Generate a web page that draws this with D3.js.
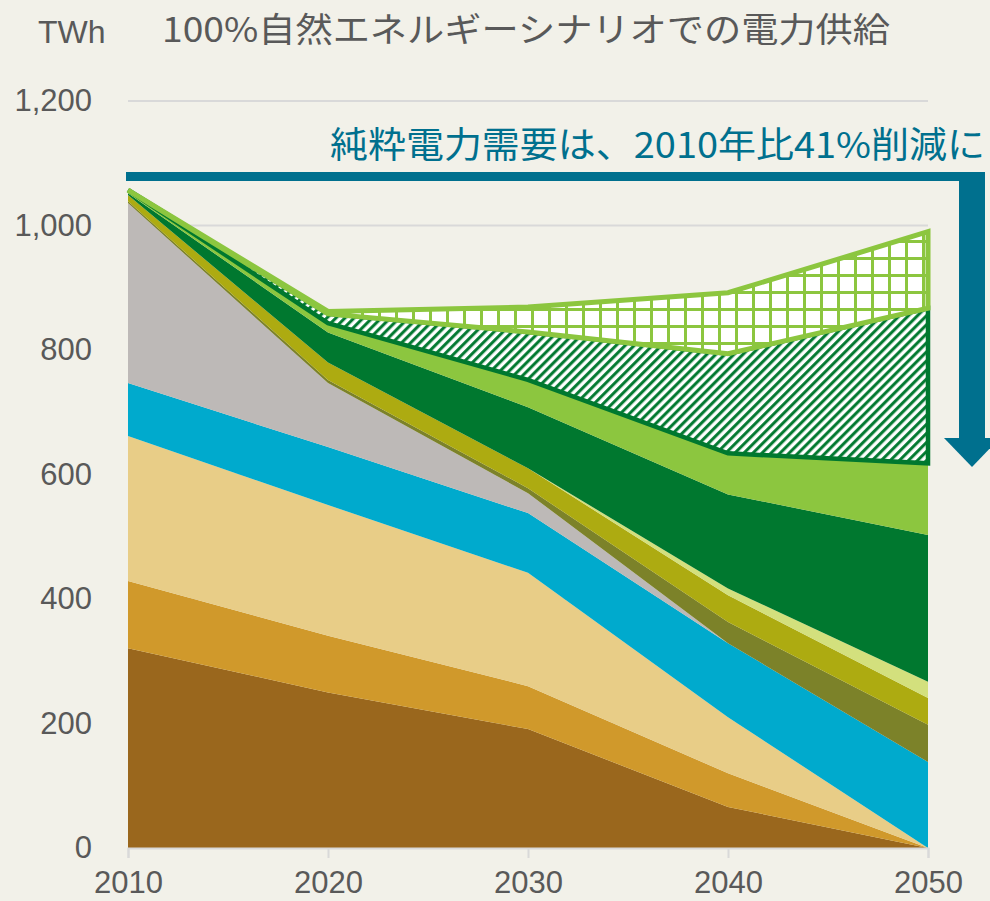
<!DOCTYPE html>
<html>
<head>
<meta charset="utf-8">
<script src="https://cdn.jsdelivr.net/npm/d3@7"></script>
<style>
  body { margin: 0; background: #f2f1e9; }
  svg { display: block; }
</style>
</head>
<body>
<div id="chart"></div>
<script>
// data (TWh)
var years = [2010, 2020, 2030, 2040, 2050];
var coal       = [321, 250, 191, 66, 0];
var oil        = [108, 91, 69, 54, 0];
var gas        = [233, 210, 182, 90, 0];
var hydro      = [85, 93, 96, 119, 138];
var nuclear    = [289, 103, 32, 0, 0];
var geothermal = [3, 5, 8, 34, 60];
var biomass    = [10, 28, 32, 43, 43];
var smallHydro = [0, 0, 0, 11, 26];
var solar      = [3, 48, 98, 151, 236];
var wind       = [5, 15, 44, 66, 115];
var hatchPart  = [0, 15, 77, 160, 249];
var gridPart   = [0, 4, 40, 98, 123];
var yTicks = [0, 200, 400, 600, 800, 1000, 1200];

var keys = ["coal", "oil", "gas", "hydro", "nuclear", "geothermal", "biomass", "smallHydro", "solar", "wind"];
var colors = ["#9a671d", "#d0992b", "#e8cd87", "#00aacd", "#bdb9b7", "#7c8229", "#adab11", "#d3e07d", "#00782f", "#8cc63f"];

var series = { coal: coal, oil: oil, gas: gas, hydro: hydro, nuclear: nuclear,
  geothermal: geothermal, biomass: biomass, smallHydro: smallHydro, solar: solar, wind: wind };

var table = years.map(function(y, i) {
  var row = { year: y };
  keys.forEach(function(k) { row[k] = series[k][i]; });
  return row;
});

var svgWidth = 990;
var svgHeight = 901;

var svg = d3.select("#chart")
  .append("svg")
  .attr("width", svgWidth)
  .attr("height", svgHeight);

svg.append("rect")
  .attr("width", svgWidth)
  .attr("height", svgHeight)
  .attr("fill", "#f2f1e9");

var x = d3.scaleLinear().domain([2010, 2050]).range([128, 928]);
var y = d3.scaleLinear().domain([0, 1200]).range([848, 101]);

// patterns
var defs = svg.append("defs");
var diag = defs.append("pattern")
  .attr("id", "diag")
  .attr("patternUnits", "userSpaceOnUse")
  .attr("width", 6.4)
  .attr("height", 6.4)
  .attr("patternTransform", "rotate(45)");
diag.append("rect").attr("width", 6.4).attr("height", 6.4).attr("fill", "#ffffff");
diag.append("line")
  .attr("x1", 1.6).attr("y1", 0).attr("x2", 1.6).attr("y2", 6.4)
  .attr("stroke", "#00782f").attr("stroke-width", 3);

var grid = defs.append("pattern")
  .attr("id", "grid")
  .attr("patternUnits", "userSpaceOnUse")
  .attr("width", 17)
  .attr("height", 17)
  .attr("x", 4)
  .attr("y", 2);
grid.append("rect").attr("width", 17).attr("height", 17).attr("fill", "#ffffff");
grid.append("path")
  .attr("d", "M1.5,0V17M0,1.5H17")
  .attr("stroke", "#8cc63f").attr("stroke-width", 3);

// gridlines
svg.append("g")
  .selectAll("line")
  .data(yTicks.slice(1))
  .enter()
  .append("line")
  .attr("x1", 128).attr("x2", 928)
  .attr("y1", d => y(d)).attr("y2", d => y(d))
  .attr("stroke", "#d9d9d9")
  .attr("stroke-width", 2);

// stacked areas
var stacked = d3.stack().keys(keys)(table);

var area = d3.area()
  .x(d => x(d.data.year))
  .y0(d => y(d[0]))
  .y1(d => y(d[1]));

svg.append("g")
  .selectAll("path")
  .data(stacked)
  .enter()
  .append("path")
  .attr("d", area)
  .attr("fill", (d, i) => colors[i]);

// overlay regions on top of the stack
var total = table.map(function(r) {
  return d3.sum(keys, k => r[k]);
});

var hatchArea = d3.area()
  .x((d, i) => x(years[i]))
  .y0((d, i) => y(total[i]))
  .y1((d, i) => y(total[i] + hatchPart[i]));

var gridArea = d3.area()
  .x((d, i) => x(years[i]))
  .y0((d, i) => y(total[i] + hatchPart[i]))
  .y1((d, i) => y(total[i] + hatchPart[i] + gridPart[i]));

svg.append("path")
  .attr("d", hatchArea(years))
  .attr("fill", "url(#diag)")
  .attr("stroke", "#00782f")
  .attr("stroke-width", 4.5)
  .attr("stroke-linejoin", "miter");

svg.append("path")
  .attr("d", gridArea(years))
  .attr("fill", "url(#grid)")
  .attr("stroke", "#8cc63f")
  .attr("stroke-width", 5)
  .attr("stroke-linejoin", "miter");

// x axis
var xAxis = svg.append("g")
  .attr("transform", "translate(0," + 848 + ")")
  .call(d3.axisBottom(x).tickValues(years).tickFormat(d3.format("d")).tickSize(10).tickPadding(13));
xAxis.select(".domain").attr("stroke", "#d9d9d9").attr("stroke-width", 2);
xAxis.selectAll(".tick line").attr("stroke", "#d9d9d9").attr("stroke-width", 2);
xAxis.selectAll("text")
  .attr("fill", "#595959")
  .style("font-family", "'Liberation Sans', Arial, sans-serif")
  .style("font-size", "31px");

// y axis labels
var yAxis = svg.append("g")
  .attr("transform", "translate(128,0)")
  .call(d3.axisLeft(y).tickValues(yTicks).tickFormat(d3.format(",")).tickSize(0).tickPadding(36));
yAxis.select(".domain").remove();
yAxis.selectAll("text")
  .attr("fill", "#595959")
  .style("font-family", "'Liberation Sans', Arial, sans-serif")
  .style("font-size", "31px");

// titles
svg.append("text")
  .attr("x", 38)
  .attr("y", 43)
  .attr("fill", "#595959")
  .style("font-family", "'Liberation Sans', Arial, sans-serif")
  .style("font-size", "32px")
  .text("TWh");

svg.append("text")
  .attr("x", 162)
  .attr("y", 42)
  .attr("fill", "#595959")
  .attr("textLength", 728)
  .attr("lengthAdjust", "spacingAndGlyphs")
  .style("font-family", "'Noto Sans CJK JP', sans-serif")
  .style("font-size", "34px")
  .text("100%自然エネルギーシナリオでの電力供給");

// reduction arrow
var teal = "#00708e";
svg.append("rect")
  .attr("x", 126).attr("y", 172)
  .attr("width", 840).attr("height", 9)
  .attr("fill", teal);
svg.append("rect")
  .attr("x", 959).attr("y", 172)
  .attr("width", 26).attr("height", 267)
  .attr("fill", teal);
svg.append("path")
  .attr("d", "M944,438L1000,438L972,467Z")
  .attr("fill", teal);

svg.append("text")
  .attr("x", 330)
  .attr("y", 158)
  .attr("fill", teal)
  .attr("textLength", 655)
  .attr("lengthAdjust", "spacingAndGlyphs")
  .style("font-family", "'Noto Sans CJK JP', sans-serif")
  .style("font-size", "36px")
  .text("純粋電力需要は、2010年比41%削減に");
</script>
</body>
</html>
